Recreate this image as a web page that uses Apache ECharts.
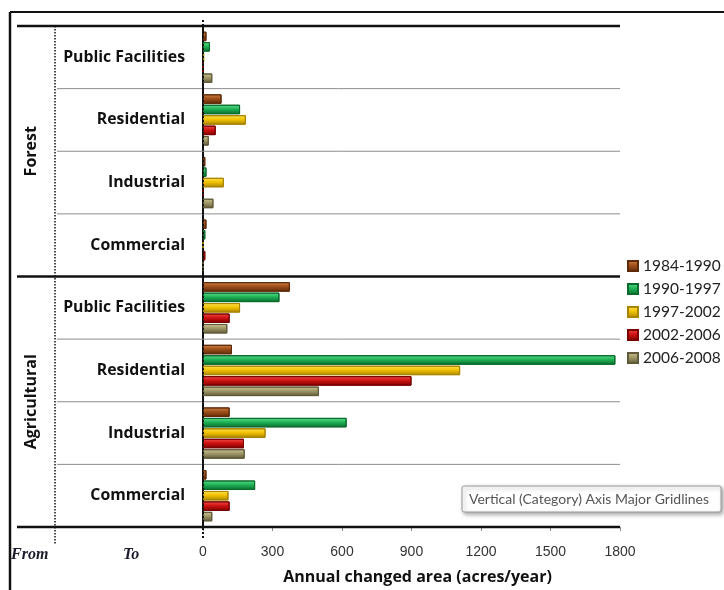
<!DOCTYPE html>
<html>
<head>
<meta charset="utf-8">
<script src="https://cdn.jsdelivr.net/npm/echarts@6/dist/echarts.min.js"></script>
<style>
html,body{margin:0;padding:0;background:#fff;}
#c{width:724px;height:590px;}
</style>
</head>
<body>
<div id="c"></div>
<script>
// ---- data ----
const groups = ['Forest', 'Agricultural'];
const landUses = ['Public Facilities', 'Residential', 'Industrial', 'Commercial'];
const periods = ['1984-1990', '1990-1997', '1997-2002', '2002-2006', '2006-2008'];
// order: Forest (PF, Res, Ind, Com), Agricultural (PF, Res, Ind, Com)
const v1984_1990 = [15, 80, 10, 15, 375, 125, 115, 15];
const v1990_1997 = [30, 160, 15, 10, 330, 1780, 620, 225];
const v1997_2002 = [5, 185, 90, 2, 160, 1110, 270, 110];
const v2002_2006 = [2, 55, 2, 10, 115, 900, 177, 115];
const v2006_2008 = [40, 25, 45, 2, 105, 500, 180, 40];
const xTicks = [0, 300, 600, 900, 1200, 1500, 1800];
const xTitle = 'Annual changed area (acres/year)';
const tipText = 'Vertical (Category) Axis Major Gridlines';

const seriesValues = [v1984_1990, v1990_1997, v1997_2002, v2002_2006, v2006_2008];
const categories = [];
groups.forEach(g => landUses.forEach(u => categories.push(g + '|' + u)));

const palettes = [
  ['#cf8446', '#a0501a', '#5e2a0a'],
  ['#5fe08e', '#1fb356', '#0a6a2c'],
  ['#ffe45a', '#f2c200', '#a88400'],
  ['#f25050', '#d01212', '#7a0000'],
  ['#cdc596', '#a09868', '#5f5a38']
];

const LBL_FONT = 'Open Sans';

const chart = echarts.init(document.getElementById('c'), null, {renderer: 'canvas'});

const series = periods.map((p, i) => ({
  name: p,
  type: 'bar',
  data: seriesValues[i],
  barWidth: 9.5,
  barGap: '10%',
  itemStyle: {
    color: new echarts.graphic.LinearGradient(0, 0, 0, 1, [
      {offset: 0, color: palettes[i][0]},
      {offset: 0.45, color: palettes[i][1]},
      {offset: 1, color: palettes[i][2]}
    ]),
    borderColor: palettes[i][2],
    borderWidth: 1
  },
  emphasis: {disabled: true}
}));

const option = {
  animation: false,
  textStyle: {fontFamily: 'Liberation Sans'},
  grid: {left: 203, right: 104, top: 26, bottom: 60, containLabel: false},
  legend: {
    orient: 'vertical',
    left: 627,
    top: 258,
    padding: 0,
    itemWidth: 10,
    itemHeight: 10,
    itemGap: 7,
    icon: 'rect',
    data: periods,
    textStyle: {fontFamily: 'Lato', fontSize: 15.5, color: '#222'},
    selectedMode: false
  },
  xAxis: {
    type: 'value',
    min: 0, max: 1800, interval: 300,
    axisLine: {show: false},
    axisTick: {show: true, length: 4, inside: false, lineStyle: {color: '#888'}},
    splitLine: {show: false},
    axisLabel: {fontSize: 14, color: '#333', margin: 18, fontFamily: 'Liberation Sans Narrow, Liberation Sans',
      formatter: v => String(v)},
    name: xTitle,
    nameLocation: 'middle',
    nameGap: 42,
    nameTextStyle: {fontFamily: LBL_FONT, fontWeight: 'bold', fontSize: 16, color: '#111', padding: [0, 0, 0, 12]}
  },
  yAxis: {
    type: 'category',
    inverse: true,
    data: categories,
    axisLine: {show: true, lineStyle: {color: '#111', type: 'dotted', width: 2}},
    axisTick: {show: false},
    splitLine: {show: false},
    axisLabel: {
      margin: 18,
      fontFamily: LBL_FONT, fontWeight: 'bold', fontSize: 15.8, color: '#111',
      formatter: v => v.split('|')[1]
    }
  },
  series: series
};
chart.setOption(option);

// decorations computed from the axis scales
function px(axis, v) {
  return axis === 'x' ? chart.convertToPixel({xAxisIndex: 0}, v) : chart.convertToPixel({yAxisIndex: 0}, v);
}
const centers = categories.map((c, i) => px('y', i));
const band = centers[1] - centers[0];
const bounds = [centers[0] - band / 2];
centers.forEach(c => bounds.push(c + band / 2));
const x0 = px('x', 0);
const xMax = px('x', 1800);
const per = landUses.length;

const g = [];
// outer frame
g.push({type: 'line', shape: {x1: 10, y1: 12, x2: 724, y2: 12}, style: {stroke: '#111', lineWidth: 2}});
g.push({type: 'line', shape: {x1: 10, y1: 12, x2: 10, y2: 590}, style: {stroke: '#111', lineWidth: 2.5}});
bounds.forEach((b, i) => {
  if (i % per === 0) {
    g.push({type: 'line', shape: {x1: 17, y1: b, x2: xMax, y2: b}, style: {stroke: '#111', lineWidth: 2.5}, z: 10});
  } else {
    g.push({type: 'line', shape: {x1: 57, y1: b, x2: xMax, y2: b}, style: {stroke: '#8c8c8c', lineWidth: 1}, z: 1});
  }
});
// dotted separator between group label and land-use labels
g.push({type: 'line', shape: {x1: 55, y1: bounds[0], x2: 55, y2: bounds[bounds.length - 1] + 18}, style: {stroke: '#111', lineWidth: 1.5, lineDash: [1.5, 1.5]}});
// zero line extension
g.push({type: 'line', shape: {x1: x0, y1: bounds[0] - 6, x2: x0, y2: bounds[bounds.length - 1] + 13}, style: {stroke: '#111', lineWidth: 2, lineDash: [2, 2]}, z: 5});
// group labels
groups.forEach((name, gi) => {
  const yc = (bounds[gi * per] + bounds[(gi + 1) * per]) / 2;
  g.push({type: 'text', x: 31, y: yc, rotation: Math.PI / 2,
    style: {text: name, fontFamily: LBL_FONT, fontWeight: 'bold', fontSize: 16, fill: '#111', align: 'center', verticalAlign: 'middle'}});
});
// From / To
const yb = bounds[bounds.length - 1];
g.push({type: 'text', x: 11, y: yb + 28, style: {text: 'From', fontFamily: 'Liberation Serif', fontStyle: 'italic', fontWeight: 'bold', fontSize: 16, fill: '#1a1a2a', verticalAlign: 'middle'}});
g.push({type: 'text', x: 123, y: yb + 28, style: {text: 'To', fontFamily: 'Liberation Serif', fontStyle: 'italic', fontWeight: 'bold', fontSize: 16, fill: '#1a1a2a', verticalAlign: 'middle'}});
// tooltip-like box
g.push({type: 'rect', shape: {x: 462, y: 486, width: 259, height: 26, r: 2},
  style: {fill: '#fff', stroke: '#9a9a9a', lineWidth: 1, shadowBlur: 4, shadowOffsetX: 2, shadowOffsetY: 2, shadowColor: 'rgba(0,0,0,0.35)'}, z: 50});
g.push({type: 'text', x: 469, y: 499, style: {text: tipText, fontFamily: 'Lato', fontSize: 14, fill: '#555', verticalAlign: 'middle'}, z: 51});

chart.setOption({graphic: g});
</script>
</body>
</html>
